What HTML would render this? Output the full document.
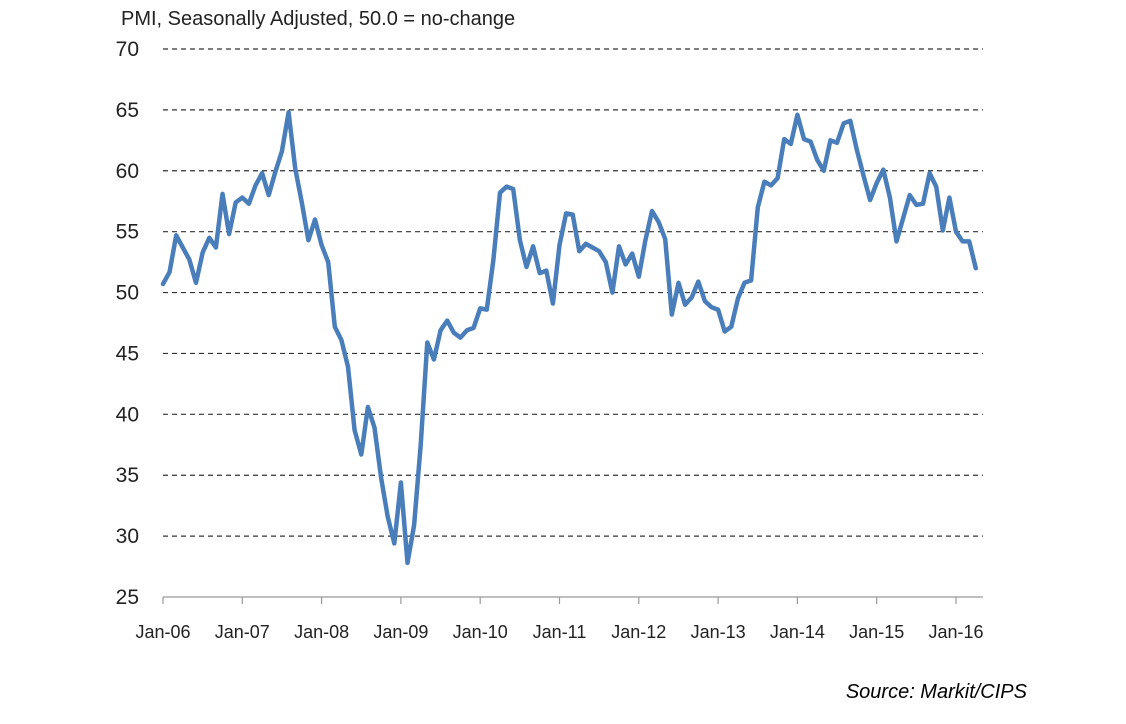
<!DOCTYPE html>
<html><head><meta charset="utf-8"><style>
html,body{margin:0;padding:0;background:#fff;width:1126px;height:724px;overflow:hidden}
svg text{font-family:"Liberation Sans",sans-serif;fill:#222}
</style></head><body>
<svg id="chart" width="1126" height="724" xmlns="http://www.w3.org/2000/svg">
<text x="121" y="25" font-size="20">PMI, Seasonally Adjusted, 50.0 = no-change</text>
<g id="grid"></g>
<g id="yticks"></g>
<g id="xaxis"></g>
<path id="line" fill="none" stroke="#4a7ebb" stroke-width="4.5" stroke-linejoin="round" stroke-linecap="round"/>
<text x="1027" y="698" font-size="20" font-style="italic" text-anchor="end" style="fill:#000">Source: Markit/CIPS</text>
</svg>
<script>
const yTicks=[25,30,35,40,45,50,55,60,65,70];
const xLabels=["Jan-06","Jan-07","Jan-08","Jan-09","Jan-10","Jan-11","Jan-12","Jan-13","Jan-14","Jan-15","Jan-16"];
const pmi=[50.7,51.7,54.7,53.7,52.7,50.8,53.3,54.5,53.7,58.1,54.8,57.4,
57.8,57.3,58.8,59.8,58.0,59.9,61.6,64.8,60.2,57.4,54.3,56.0,
53.9,52.5,47.2,46.1,43.9,38.7,36.7,40.6,38.9,34.8,31.6,29.4,
34.4,27.8,30.9,37.5,45.9,44.5,46.9,47.7,46.7,46.3,46.9,47.1,
48.7,48.6,52.7,58.2,58.7,58.5,54.3,52.1,53.8,51.6,51.8,49.1,
53.9,56.5,56.4,53.4,54.0,53.7,53.4,52.5,50.0,53.8,52.3,53.2,
51.3,54.3,56.7,55.8,54.4,48.2,50.8,49.0,49.6,50.9,49.3,48.8,
48.6,46.8,47.2,49.5,50.8,51.0,57.0,59.1,58.8,59.4,62.6,62.2,
64.6,62.6,62.4,60.9,60.0,62.5,62.3,63.9,64.1,61.7,59.6,57.6,
59.0,60.1,57.8,54.2,56.1,58.0,57.2,57.3,59.8,58.7,55.1,57.8,
55.0,54.2,54.2,52.0];
const NS="http://www.w3.org/2000/svg";
const x0=163,x1=983,yTop=49,yBot=597,stepX=79.3/12;
function y(v){return yBot-(v-25)/45*(yBot-yTop);}
function x(i){return x0+i*stepX;}
const grid=document.getElementById('grid'),yt=document.getElementById('yticks'),xa=document.getElementById('xaxis');
yTicks.forEach(v=>{
  if(v>25){const l=document.createElementNS(NS,'line');
  
  
  l.setAttribute('x1',x0);l.setAttribute('x2',x1);l.setAttribute('y1',y(v));l.setAttribute('y2',y(v));
  l.setAttribute('stroke','#333');l.setAttribute('stroke-width','1.2');l.setAttribute('stroke-dasharray','5,4');grid.appendChild(l);}
  const t=document.createElementNS(NS,'text');
  
  
  t.setAttribute('x',139);t.setAttribute('y',y(v)+7);t.setAttribute('text-anchor','end');t.setAttribute('font-size','21');
  t.textContent=v;yt.appendChild(t);
});
const ax=document.createElementNS(NS,'line');


ax.setAttribute('x1',x0);ax.setAttribute('x2',x1);ax.setAttribute('y1',yBot);ax.setAttribute('y2',yBot);ax.setAttribute('stroke','#999');ax.setAttribute('stroke-width','1.2');xa.appendChild(ax);
xLabels.forEach((s,k)=>{
  const xx=x(k*12);
  const tk=document.createElementNS(NS,'line');
  
  
  tk.setAttribute('x1',xx);tk.setAttribute('x2',xx);tk.setAttribute('y1',yBot);tk.setAttribute('y2',yBot+7);tk.setAttribute('stroke','#999');tk.setAttribute('stroke-width','1.2');xa.appendChild(tk);
  const t=document.createElementNS(NS,'text');
  
  
  t.setAttribute('x',xx);t.setAttribute('y',638);t.setAttribute('text-anchor','middle');t.setAttribute('font-size','18');
  t.textContent=s;xa.appendChild(t);
});
document.getElementById('line').setAttribute('d',pmi.map((v,i)=>(i?'L':'M')+x(i).toFixed(1)+','+y(v).toFixed(1)).join(''));
</script>
</body></html>
